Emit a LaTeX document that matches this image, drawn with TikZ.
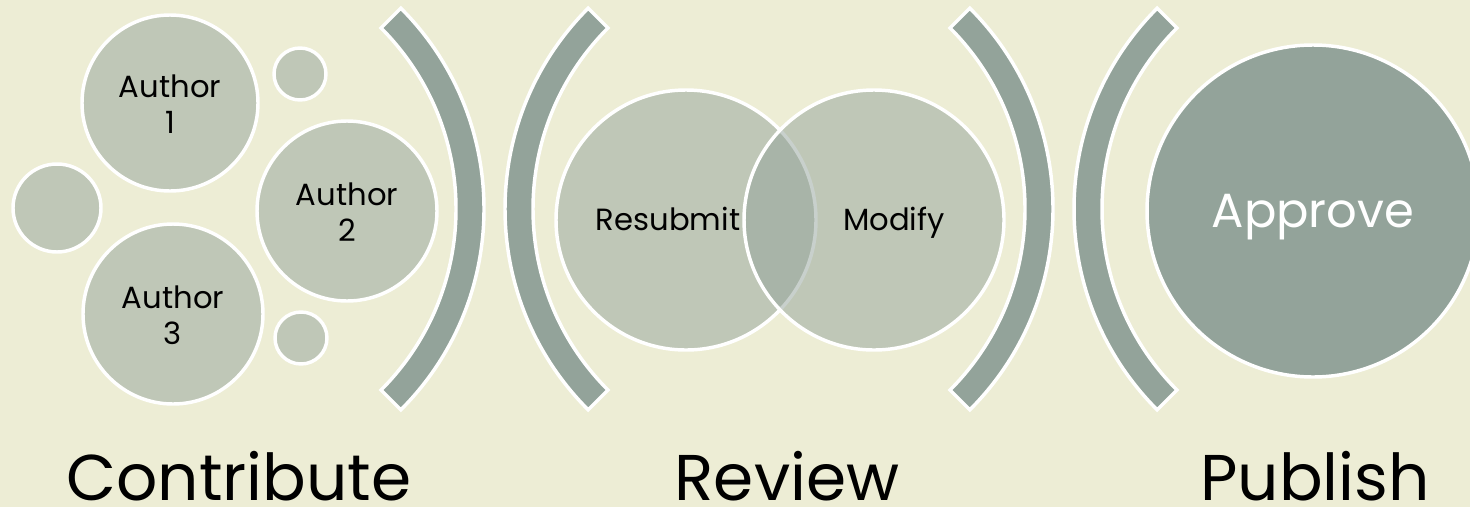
\documentclass[tikz,border=0pt]{standalone}
\usepackage{fontspec}
\setmainfont{Poppins}
\usepackage{tikz}
\usepackage{xcolor}

\definecolor{creambg}{HTML}{EDEDD5}
\definecolor{sagedark}{HTML}{93A39A}

\tikzset{
  bubble/.style={draw=white, line width=2.6pt, fill=sagedark, fill opacity=0.5},
  bigbubble/.style={draw=white, line width=2.6pt, fill=sagedark},
  bracketband/.style={draw=white, line width=2.6pt, fill=sagedark, line join=miter},
  bubbletext/.style={inner sep=0pt, align=center, font=\fontsize{23}{27}\selectfont},
  steplabel/.style={anchor=base, inner sep=0pt, text depth=0pt, font=\fontsize{48.5}{56}\selectfont},
}

\begin{document}
\begin{tikzpicture}[x=0.75pt,y=0.75pt,yscale=-1,xscale=1]
        %set diagram left start at 0, size 1470 x 507
        \useasboundingbox (0,0) rectangle (1470,507);
        \fill [creambg] (0,0) rectangle (1470,507);

        %Shape: Circle [Author 1]
        \draw [bubble] (170,103) circle (88) ;
        %Shape: Circle [small top]
        \draw [bubble] (300,74) circle (26) ;
        %Shape: Circle [small left]
        \draw [bubble] (57,208) circle (44) ;
        %Shape: Circle [Author 2]
        \draw [bubble] (347,211) circle (90) ;
        %Shape: Circle [Author 3]
        \draw [bubble] (173,314) circle (90) ;
        %Shape: Circle [small bottom]
        \draw [bubble] (301,338) circle (26) ;

        %Shape: Block Arc [brackets]
        \foreach \cx/\a in {200/0, 789/180, 769/0, 1358/180}{
          \draw [bracketband] (\cx,209) ++(\a-45:284) arc [start angle=\a-45, end angle=\a+45, radius=284] -- ++(\a+225:28) arc [start angle=\a+45, end angle=\a-45, radius=256] -- cycle ;
        }

        %Shape: Circle [Resubmit]
        \draw [bubble] (686,220) circle (130) ;
        %Shape: Circle [Modify]
        \draw [bubble] (874,220) circle (130) ;

        %Shape: Circle [Approve]
        \draw [bigbubble] (1313,211) circle (166) ;

        % Text Node
        \node [bubbletext] (author1) at (170,104) {Author\\1};
        % Text Node
        \node [bubbletext] (author2) at (347,212) {Author\\2};
        % Text Node
        \node [bubbletext] (author3) at (173,315) {Author\\3};
        % Text Node
        \node [bubbletext, anchor=base] (resubmit) at (668,230) {Resubmit};
        % Text Node
        \node [bubbletext, anchor=base] (modify) at (894,230) {Modify};
        % Text Node
        \node [bubbletext, anchor=base, text=white, font=\fontsize{36}{40}\selectfont] (approve) at (1313,227) {Approve};

        % Text Node
        \node [steplabel] (contribute) at (239,500) {Contribute};
        % Text Node
        \node [steplabel] (review) at (787,500) {Review};
        % Text Node
        \node [steplabel] (publish) at (1315,500) {Publish};

\end{tikzpicture}
\end{document}
